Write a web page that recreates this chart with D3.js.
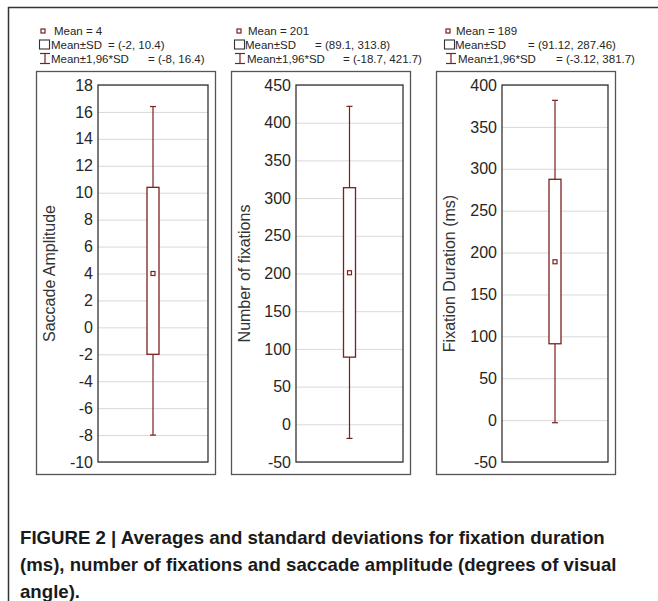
<!DOCTYPE html>
<html>
<head>
<meta charset="utf-8">
<script src="https://cdn.jsdelivr.net/npm/d3@7"></script>
<style>
  html, body { margin: 0; padding: 0; background: #fff; }
  svg { display: block; }
</style>
</head>
<body>
<svg id="fig" width="658" height="601"></svg>
<script>
// Summary statistics per measure
const measures = ["Saccade Amplitude", "Number of fixations", "Fixation Duration (ms)"];
const means    = [4, 201, 189];
const sdLow    = [-2, 89.1, 91.12];
const sdHigh   = [10.4, 313.8, 287.46];
const ciLow    = [-8, -18.7, -3.12];
const ciHigh   = [16.4, 421.7, 381.7];

// Axis ranges and tick steps
const yMin  = [-10, -50, -50];
const yMax  = [18, 450, 400];
const yStep = [2, 50, 50];

// Legend wording
const legendMean = "Mean = ";
const legendSD   = "Mean±SD";
const legendCI   = "Mean±1,96*SD";

const captionLines = [
  "FIGURE 2 | Averages and standard deviations for fixation duration",
  "(ms), number of fixations and saccade amplitude (degrees of visual",
  "angle)."
];

// Panel geometry
const outerX = [36, 231, 436];
const outerW = 179;
const outerTop = 71, outerBottom = 474;
const innerLeftOff = [62, 65, 66];
const innerRightOff = 7;
const plotTop = 85, plotBottom = 462;

// Legend placement per panel
const legMarkX  = [43, 239, 448];
const legText1X = [54, 248, 456];
const legBoxX   = [39, 234, 444];
const legText2X = [51, 245, 455];
const legEq2X   = [108, 315, 528];
const legIX     = [45, 240, 451];
const legText3X = [51, 247, 458];
const legEq3X   = [148, 343, 556];
const legRowY   = [35, 48.5, 62.5];
const legFont   = 11.5;

const dark = "#7b1f1f";
const textCol = "#262626";
const font = "'Liberation Sans', Arial, sans-serif";

const svg = d3.select("#fig");

// outer page frame
svg.append("line").attr("x1", 8).attr("x2", 658).attr("y1", 7.5).attr("y2", 7.5)
  .attr("stroke", "#333").attr("stroke-width", 1.5);
svg.append("line").attr("x1", 8.5).attr("x2", 8.5).attr("y1", 7).attr("y2", 601)
  .attr("stroke", "#333").attr("stroke-width", 1.5);

const fmt = v => String(v);

measures.forEach((name, i) => {
  const g = svg.append("g");
  const x0 = outerX[i];
  const left = x0 + innerLeftOff[i];
  const right = x0 + outerW - innerRightOff;
  const cx = (left + right) / 2;

  const y = d3.scaleLinear().domain([yMin[i], yMax[i]]).range([plotBottom, plotTop]);
  const ticks = d3.range(yMin[i], yMax[i] + yStep[i] / 2, yStep[i]);

  // outer panel frame
  g.append("rect")
    .attr("x", x0 + 0.5).attr("y", outerTop + 0.5)
    .attr("width", outerW).attr("height", outerBottom - outerTop)
    .attr("fill", "#fff").attr("stroke", "#555").attr("stroke-width", 1.3);

  // grid lines
  const grid = g.append("g").attr("transform", `translate(${left},0)`)
    .call(d3.axisLeft(y).tickValues(ticks).tickSize(-(right - left)).tickFormat(""));
  grid.select(".domain").remove();
  grid.selectAll(".tick line").attr("stroke", "#d9d9d9").attr("stroke-width", 1);

  // tick labels
  const ax = g.append("g").attr("transform", `translate(${left},0)`)
    .call(d3.axisLeft(y).tickValues(ticks).tickSize(0).tickPadding(5).tickFormat(fmt));
  ax.select(".domain").remove();
  ax.selectAll(".tick text")
    .attr("font-family", font).attr("font-size", 16).attr("fill", textCol);

  // plot frame
  g.append("rect")
    .attr("x", left).attr("y", plotTop)
    .attr("width", right - left).attr("height", plotBottom - plotTop)
    .attr("fill", "none").attr("stroke", "#333").attr("stroke-width", 1.3);

  // axis title
  g.append("text")
    .attr("transform", `translate(${x0 + 13},${(plotTop + plotBottom) / 2}) rotate(-90)`)
    .attr("text-anchor", "middle").attr("dominant-baseline", "central")
    .attr("font-family", font).attr("font-size", 16).attr("fill", "#333")
    .text(name);

  // whiskers (mean ± 1.96 SD)
  const capW = 3;
  g.append("line").attr("x1", cx).attr("x2", cx)
    .attr("y1", y(ciHigh[i])).attr("y2", y(sdHigh[i]))
    .attr("stroke", dark).attr("stroke-width", 1.2);
  g.append("line").attr("x1", cx).attr("x2", cx)
    .attr("y1", y(sdLow[i])).attr("y2", y(ciLow[i]))
    .attr("stroke", dark).attr("stroke-width", 1.2);
  [ciHigh[i], ciLow[i]].forEach(v => {
    g.append("line").attr("x1", cx - capW).attr("x2", cx + capW)
      .attr("y1", y(v)).attr("y2", y(v))
      .attr("stroke", dark).attr("stroke-width", 1.2);
  });

  // box (mean ± SD)
  const boxW = 12;
  g.append("rect")
    .attr("x", cx - boxW / 2).attr("y", y(sdHigh[i]))
    .attr("width", boxW).attr("height", y(sdLow[i]) - y(sdHigh[i]))
    .attr("fill", "#fff").attr("stroke", dark).attr("stroke-width", 1.3);

  // mean marker
  g.append("rect")
    .attr("x", cx - 2).attr("y", y(means[i]) - 2)
    .attr("width", 4).attr("height", 4)
    .attr("fill", "#fff").attr("stroke", dark).attr("stroke-width", 1.2);

  // legend
  const lt = (x, yy, s) => g.append("text").attr("x", x).attr("y", yy)
    .attr("font-family", font).attr("font-size", legFont).attr("fill", textCol).text(s);

  g.append("rect").attr("x", legMarkX[i] - 2).attr("y", legRowY[0] - 6)
    .attr("width", 4).attr("height", 4)
    .attr("fill", "#fff").attr("stroke", dark).attr("stroke-width", 1.2);
  lt(legText1X[i], legRowY[0], legendMean + means[i]);

  g.append("rect").attr("x", legBoxX[i] + 0.5).attr("y", legRowY[1] - 8.5)
    .attr("width", 10).attr("height", 9)
    .attr("fill", "#fff").attr("stroke", "#333").attr("stroke-width", 1.1);
  lt(legText2X[i], legRowY[1], legendSD);
  lt(legEq2X[i], legRowY[1], `= (${sdLow[i]}, ${sdHigh[i]})`);

  const ix = legIX[i];
  const iTop = legRowY[2] - 9, iBot = legRowY[2] + 1;
  g.append("line").attr("x1", ix).attr("x2", ix).attr("y1", iTop).attr("y2", iBot)
    .attr("stroke", dark).attr("stroke-width", 1.2);
  [iTop, iBot].forEach(yy => g.append("line")
    .attr("x1", ix - 5).attr("x2", ix + 5).attr("y1", yy).attr("y2", yy)
    .attr("stroke", dark).attr("stroke-width", 1.2));
  lt(legText3X[i], legRowY[2], legendCI);
  lt(legEq3X[i], legRowY[2], `= (${ciLow[i]}, ${ciHigh[i]})`);
});

// caption: condensed bold, first line spans the figure width
const capX = 20, capWidth = 585;
const cap = svg.append("g");
const capTexts = captionLines.map((s, k) => cap.append("text")
  .attr("x", 0).attr("y", 0)
  .attr("font-family", font)
  .attr("font-weight", "bold").attr("font-size", 19).attr("fill", "#1a1a1a")
  .text(s));
const natural = capTexts[0].node().getComputedTextLength();
const sx = capWidth / natural;
capTexts.forEach((t, k) => {
  t.attr("transform", `translate(${capX},${543.5 + k * 27}) scale(${sx},1)`);
});
</script>
</body>
</html>
